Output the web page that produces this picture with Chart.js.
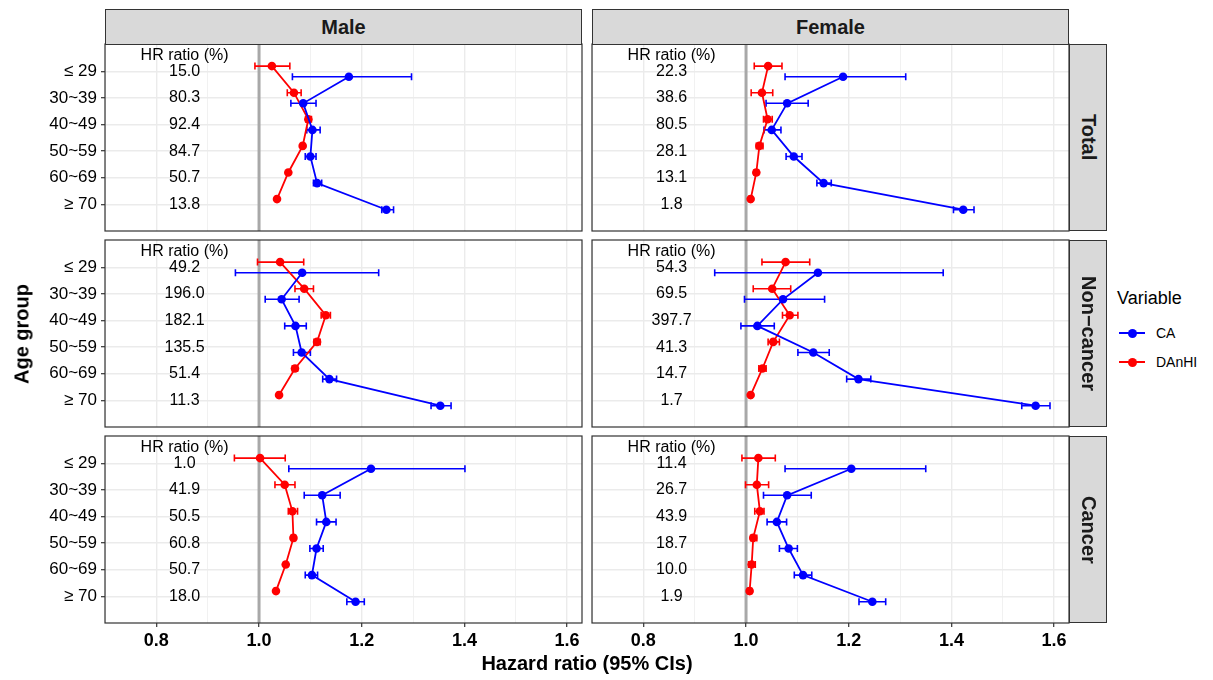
<!DOCTYPE html>
<html><head><meta charset="utf-8">
<script src="https://cdn.jsdelivr.net/npm/chart.js@4.4.1/dist/chart.umd.min.js"></script>
<style>
html,body{margin:0;padding:0;background:#fff;}
body{width:1213px;height:680px;position:relative;overflow:hidden;font-family:"Liberation Sans",Arial,sans-serif;color:#000;}
canvas.cv{position:absolute;}
.strip{position:absolute;background:#D9D9D9;border:1.2px solid #333;box-sizing:border-box;display:flex;align-items:center;justify-content:center;font-weight:bold;font-size:20px;color:#1a1a1a;}
.vstrip{writing-mode:vertical-rl;}
.title{position:absolute;font-weight:bold;font-size:20px;white-space:nowrap;}
.leg{position:absolute;white-space:nowrap;}
.glyph{position:absolute;height:2px;width:26px;}
.dot{position:absolute;width:9px;height:9px;border-radius:50%;}
</style>
</head><body>
<script>
// ---------- data ----------
const ageGroups = ['\u2264 29', '30~39', '40~49', '50~59', '60~69', '\u2265 70'];
const sexes = ['Male', 'Female'];
const groups = ['Total', 'Non\u2212cancer', 'Cancer'];
const seriesNames = ['CA', 'DAnHI'];
const xTickValues = [0.7, 0.8, 0.9, 1.0, 1.1, 1.2, 1.3, 1.4, 1.5, 1.6];
const hrHeader = 'HR ratio (%)';

// Male - Total
const maleTotalCA      = [1.175, 1.086, 1.104, 1.100, 1.113, 1.248];
const maleTotalCALo    = [1.065, 1.062, 1.093, 1.090, 1.106, 1.239];
const maleTotalCAHi    = [1.297, 1.111, 1.119, 1.111, 1.122, 1.262];
const maleTotalDAnHI   = [1.025, 1.068, 1.096, 1.085, 1.057, 1.035];
const maleTotalDAnHILo = [0.992, 1.055, 1.091, 1.082, 1.054, 1.032];
const maleTotalDAnHIHi = [1.060, 1.082, 1.102, 1.088, 1.060, 1.038];
const maleTotalHR      = ['15.0', '80.3', '92.4', '84.7', '50.7', '13.8'];

// Female - Total
const femaleTotalCA      = [1.189, 1.080, 1.050, 1.093, 1.151, 1.423];
const femaleTotalCALo    = [1.076, 1.039, 1.035, 1.078, 1.138, 1.404];
const femaleTotalCAHi    = [1.311, 1.121, 1.068, 1.109, 1.166, 1.444];
const femaleTotalDAnHI   = [1.043, 1.031, 1.042, 1.026, 1.020, 1.009];
const femaleTotalDAnHILo = [1.016, 1.010, 1.034, 1.020, 1.016, 1.006];
const femaleTotalDAnHIHi = [1.070, 1.052, 1.051, 1.033, 1.024, 1.012];
const femaleTotalHR      = ['22.3', '38.6', '80.5', '28.1', '13.1', '1.8'];

// Male - Non-cancer
const maleNonCA      = [1.084, 1.044, 1.071, 1.083, 1.137, 1.353];
const maleNonCALo    = [0.954, 1.012, 1.050, 1.067, 1.124, 1.335];
const maleNonCAHi    = [1.233, 1.078, 1.092, 1.100, 1.151, 1.374];
const maleNonDAnHI   = [1.041, 1.088, 1.130, 1.113, 1.070, 1.039];
const maleNonDAnHILo = [0.997, 1.070, 1.121, 1.107, 1.065, 1.036];
const maleNonDAnHIHi = [1.087, 1.106, 1.139, 1.119, 1.075, 1.042];
const maleNonHR      = ['49.2', '196.0', '182.1', '135.5', '51.4', '11.3'];

// Female - Non-cancer
const femaleNonCA      = [1.140, 1.072, 1.022, 1.131, 1.219, 1.564];
const femaleNonCALo    = [0.939, 0.997, 0.990, 1.101, 1.196, 1.537];
const femaleNonCAHi    = [1.384, 1.153, 1.055, 1.162, 1.243, 1.592];
const femaleNonDAnHI   = [1.077, 1.051, 1.085, 1.053, 1.032, 1.009];
const femaleNonDAnHILo = [1.031, 1.014, 1.071, 1.043, 1.025, 1.006];
const femaleNonDAnHIHi = [1.124, 1.087, 1.101, 1.065, 1.039, 1.012];
const femaleNonHR      = ['54.3', '69.5', '397.7', '41.3', '14.7', '1.7'];

// Male - Cancer
const maleCanCA      = [1.218, 1.123, 1.131, 1.112, 1.103, 1.188];
const maleCanCALo    = [1.058, 1.088, 1.112, 1.099, 1.090, 1.171];
const maleCanCAHi    = [1.401, 1.158, 1.150, 1.125, 1.114, 1.205];
const maleCanDAnHI   = [1.002, 1.050, 1.065, 1.067, 1.052, 1.033];
const maleCanDAnHILo = [0.952, 1.031, 1.057, 1.063, 1.049, 1.030];
const maleCanDAnHIHi = [1.051, 1.070, 1.075, 1.071, 1.055, 1.036];
const maleCanHR      = ['1.0', '41.9', '50.5', '60.8', '50.7', '18.0'];

// Female - Cancer
const femaleCanCA      = [1.205, 1.080, 1.060, 1.083, 1.111, 1.246];
const femaleCanCALo    = [1.076, 1.034, 1.041, 1.065, 1.094, 1.220];
const femaleCanCAHi    = [1.350, 1.127, 1.079, 1.100, 1.128, 1.272];
const femaleCanDAnHI   = [1.024, 1.021, 1.027, 1.014, 1.011, 1.007];
const femaleCanDAnHILo = [0.992, 0.999, 1.017, 1.009, 1.005, 1.003];
const femaleCanDAnHIHi = [1.057, 1.044, 1.035, 1.021, 1.018, 1.011];
const femaleCanHR      = ['11.4', '26.7', '43.9', '18.7', '10.0', '1.9'];

// ---------- layout / style ----------
const FONT = '"Liberation Sans", Arial, sans-serif';
const COL_CA = '#0000FF', COL_DA = '#FF0000';
const xMin = 0.70, xMax = 1.629;
const yMin = -1.03, yMax = 6.0;
const dodge = 0.2;
const hrTextX = 0.855;
const panelLeft = [105, 592], panelRight = [582, 1069];
const panelTop = [44, 240, 436], panelH = 187;

const panels = [
  [[maleTotalCA, maleTotalCALo, maleTotalCAHi, maleTotalDAnHI, maleTotalDAnHILo, maleTotalDAnHIHi, maleTotalHR],
   [femaleTotalCA, femaleTotalCALo, femaleTotalCAHi, femaleTotalDAnHI, femaleTotalDAnHILo, femaleTotalDAnHIHi, femaleTotalHR]],
  [[maleNonCA, maleNonCALo, maleNonCAHi, maleNonDAnHI, maleNonDAnHILo, maleNonDAnHIHi, maleNonHR],
   [femaleNonCA, femaleNonCALo, femaleNonCAHi, femaleNonDAnHI, femaleNonDAnHILo, femaleNonDAnHIHi, femaleNonHR]],
  [[maleCanCA, maleCanCALo, maleCanCAHi, maleCanDAnHI, maleCanDAnHILo, maleCanDAnHIHi, maleCanHR],
   [femaleCanCA, femaleCanCALo, femaleCanCAHi, femaleCanDAnHI, femaleCanDAnHILo, femaleCanDAnHIHi, femaleCanHR]]
];

const isMajor = v => Math.round(v * 10) % 2 === 0;

const decoPlugin = {
  id: 'deco',
  beforeDatasetsDraw(chart, args, opts) {
    const {ctx, chartArea: a, scales: {x, y}} = chart;
    ctx.save();
    ctx.beginPath(); ctx.rect(a.left, a.top, a.right - a.left, a.bottom - a.top); ctx.clip();
    const px = x.getPixelForValue(1.0);
    ctx.strokeStyle = '#A8A8A8'; ctx.lineWidth = 3;
    ctx.beginPath(); ctx.moveTo(px, a.top); ctx.lineTo(px, a.bottom); ctx.stroke();
    chart.data.datasets.forEach(ds => {
      ctx.strokeStyle = ds.borderColor; ctx.lineWidth = 1.6;
      ds.data.forEach((p, j) => {
        const py = y.getPixelForValue(p.y);
        const x1 = x.getPixelForValue(ds.lo[j]), x2 = x.getPixelForValue(ds.hi[j]);
        ctx.beginPath();
        ctx.moveTo(x1, py); ctx.lineTo(x2, py);
        ctx.moveTo(x1, py - 3.5); ctx.lineTo(x1, py + 3.5);
        ctx.moveTo(x2, py - 3.5); ctx.lineTo(x2, py + 3.5);
        ctx.stroke();
      });
    });
    ctx.restore();
  },
  afterDatasetsDraw(chart, args, opts) {
    const {ctx, chartArea: a, scales: {x, y}} = chart;
    ctx.save();
    ctx.fillStyle = '#000';
    ctx.font = '16px ' + FONT;
    ctx.textAlign = 'center'; ctx.textBaseline = 'middle';
    const tx = x.getPixelForValue(hrTextX);
    ctx.fillText(hrHeader, tx, y.getPixelForValue(-0.6));
    opts.hr.forEach((t, i) => ctx.fillText(t, tx, y.getPixelForValue(i)));
    ctx.strokeStyle = '#333'; ctx.lineWidth = 1.2;
    ctx.strokeRect(a.left, a.top, a.right - a.left, a.bottom - a.top);
    ctx.restore();
  }
};

for (let r = 0; r < 3; r++) {
  for (let c = 0; c < 2; c++) {
    const [ca, caLo, caHi, da, daLo, daHi, hr] = panels[r][c];
    const yw = c === 0 ? 105 : 0;
    const padL = c === 0 ? 0 : 3;
    const xh = r === 2 ? 34 : 0;
    const left = panelLeft[c] - padL - yw;
    const top = panelTop[r] - 3;
    const w = panelRight[c] + 3 - left;
    const h = 3 + panelH + xh + 3;
    const cv = document.createElement('canvas');
    cv.className = 'cv';
    cv.width = w; cv.height = h;
    cv.style.left = left + 'px'; cv.style.top = top + 'px';
    cv.style.width = w + 'px'; cv.style.height = h + 'px';
    document.body.appendChild(cv);

    new Chart(cv, {
      type: 'scatter',
      data: {
        datasets: [
          {label: seriesNames[0], data: ca.map((v, i) => ({x: v, y: i + dodge})), lo: caLo, hi: caHi,
           borderColor: COL_CA, backgroundColor: COL_CA, pointBackgroundColor: COL_CA, pointBorderColor: COL_CA,
           showLine: true, borderWidth: 1.8, pointRadius: 4.3, pointBorderWidth: 0},
          {label: seriesNames[1], data: da.map((v, i) => ({x: v, y: i - dodge})), lo: daLo, hi: daHi,
           borderColor: COL_DA, backgroundColor: COL_DA, pointBackgroundColor: COL_DA, pointBorderColor: COL_DA,
           showLine: true, borderWidth: 1.8, pointRadius: 4.3, pointBorderWidth: 0}
        ]
      },
      options: {
        responsive: false, animation: false, events: [], devicePixelRatio: 1,
        layout: {autoPadding: false, padding: {left: padL, top: 3, right: 3, bottom: 3}},
        plugins: {legend: {display: false}, tooltip: {enabled: false}, deco: {hr: hr}},
        scales: {
          x: {
            type: 'linear', min: xMin, max: xMax,
            afterBuildTicks: s => { s.ticks = xTickValues.map(v => ({value: v})); },
            afterFit: s => { s.height = xh; s.paddingLeft = 0; s.paddingRight = 0; s.paddingTop = 0; s.paddingBottom = 0; },
            border: {display: false},
            grid: {
              color: '#EBEBEB',
              lineWidth: ctx => (ctx.tick && isMajor(ctx.tick.value)) ? 1.4 : 0.7,
              drawTicks: r === 2, tickLength: 4, tickWidth: 1.2,
              tickColor: ctx => (ctx.tick && isMajor(ctx.tick.value)) ? '#333' : 'rgba(0,0,0,0)'
            },
            ticks: {
              display: r === 2, autoSkip: false, maxRotation: 0, padding: 3,
              color: '#000', font: {family: FONT, size: 18, weight: 'bold'},
              callback: v => isMajor(v) ? v.toFixed(1) : ''
            }
          },
          y: {
            type: 'linear', reverse: true, min: yMin, max: yMax,
            afterBuildTicks: s => { s.ticks = ageGroups.map((g, i) => ({value: i})); },
            afterFit: s => { s.width = yw; s.paddingTop = 0; s.paddingBottom = 0; s.paddingLeft = 0; s.paddingRight = 0; },
            border: {display: false},
            grid: {color: '#EBEBEB', lineWidth: 1.4, drawTicks: c === 0, tickLength: 4, tickWidth: 1.2, tickColor: '#333'},
            ticks: {
              display: c === 0, autoSkip: false, padding: 4,
              color: '#000', font: {family: FONT, size: 17},
              callback: (v) => ageGroups[Math.round(v)]
            }
          }
        }
      },
      plugins: [decoPlugin]
    });
  }
}

// ---------- strips, titles, legend (HTML text) ----------
function addDiv(cls, txt, css) {
  const d = document.createElement('div');
  d.className = cls; d.textContent = txt;
  Object.assign(d.style, css);
  document.body.appendChild(d);
  return d;
}
sexes.forEach((s, c) => addDiv('strip', s, {
  left: panelLeft[c] + 'px', top: '9px',
  width: (panelRight[c] - panelLeft[c]) + 'px', height: (panelTop[0] - 9 + 1) + 'px'
}));
groups.forEach((g, r) => addDiv('strip vstrip', g, {
  left: '1069px', top: panelTop[r] + 'px', width: '38px', height: panelH + 'px'
}));
addDiv('title', 'Hazard ratio (95% CIs)', {left: '587px', top: '663px', transform: 'translate(-50%,-50%)'});
addDiv('title', 'Age group', {left: '22px', top: '334px', transform: 'translate(-50%,-50%) rotate(-90deg)'});

addDiv('leg', 'Variable', {left: '1117px', top: '298px', fontSize: '18px', transform: 'translateY(-50%)'});
[[seriesNames[0], COL_CA, 333], [seriesNames[1], COL_DA, 362]].forEach(([name, col, yy]) => {
  addDiv('glyph', '', {left: '1119px', top: (yy - 1) + 'px', background: col});
  addDiv('dot', '', {left: (1132 - 4.5) + 'px', top: (yy - 4.5) + 'px', background: col});
  addDiv('leg', name, {left: '1156px', top: yy + 'px', fontSize: '14px', transform: 'translateY(-50%)'});
});
</script>
</body></html>
